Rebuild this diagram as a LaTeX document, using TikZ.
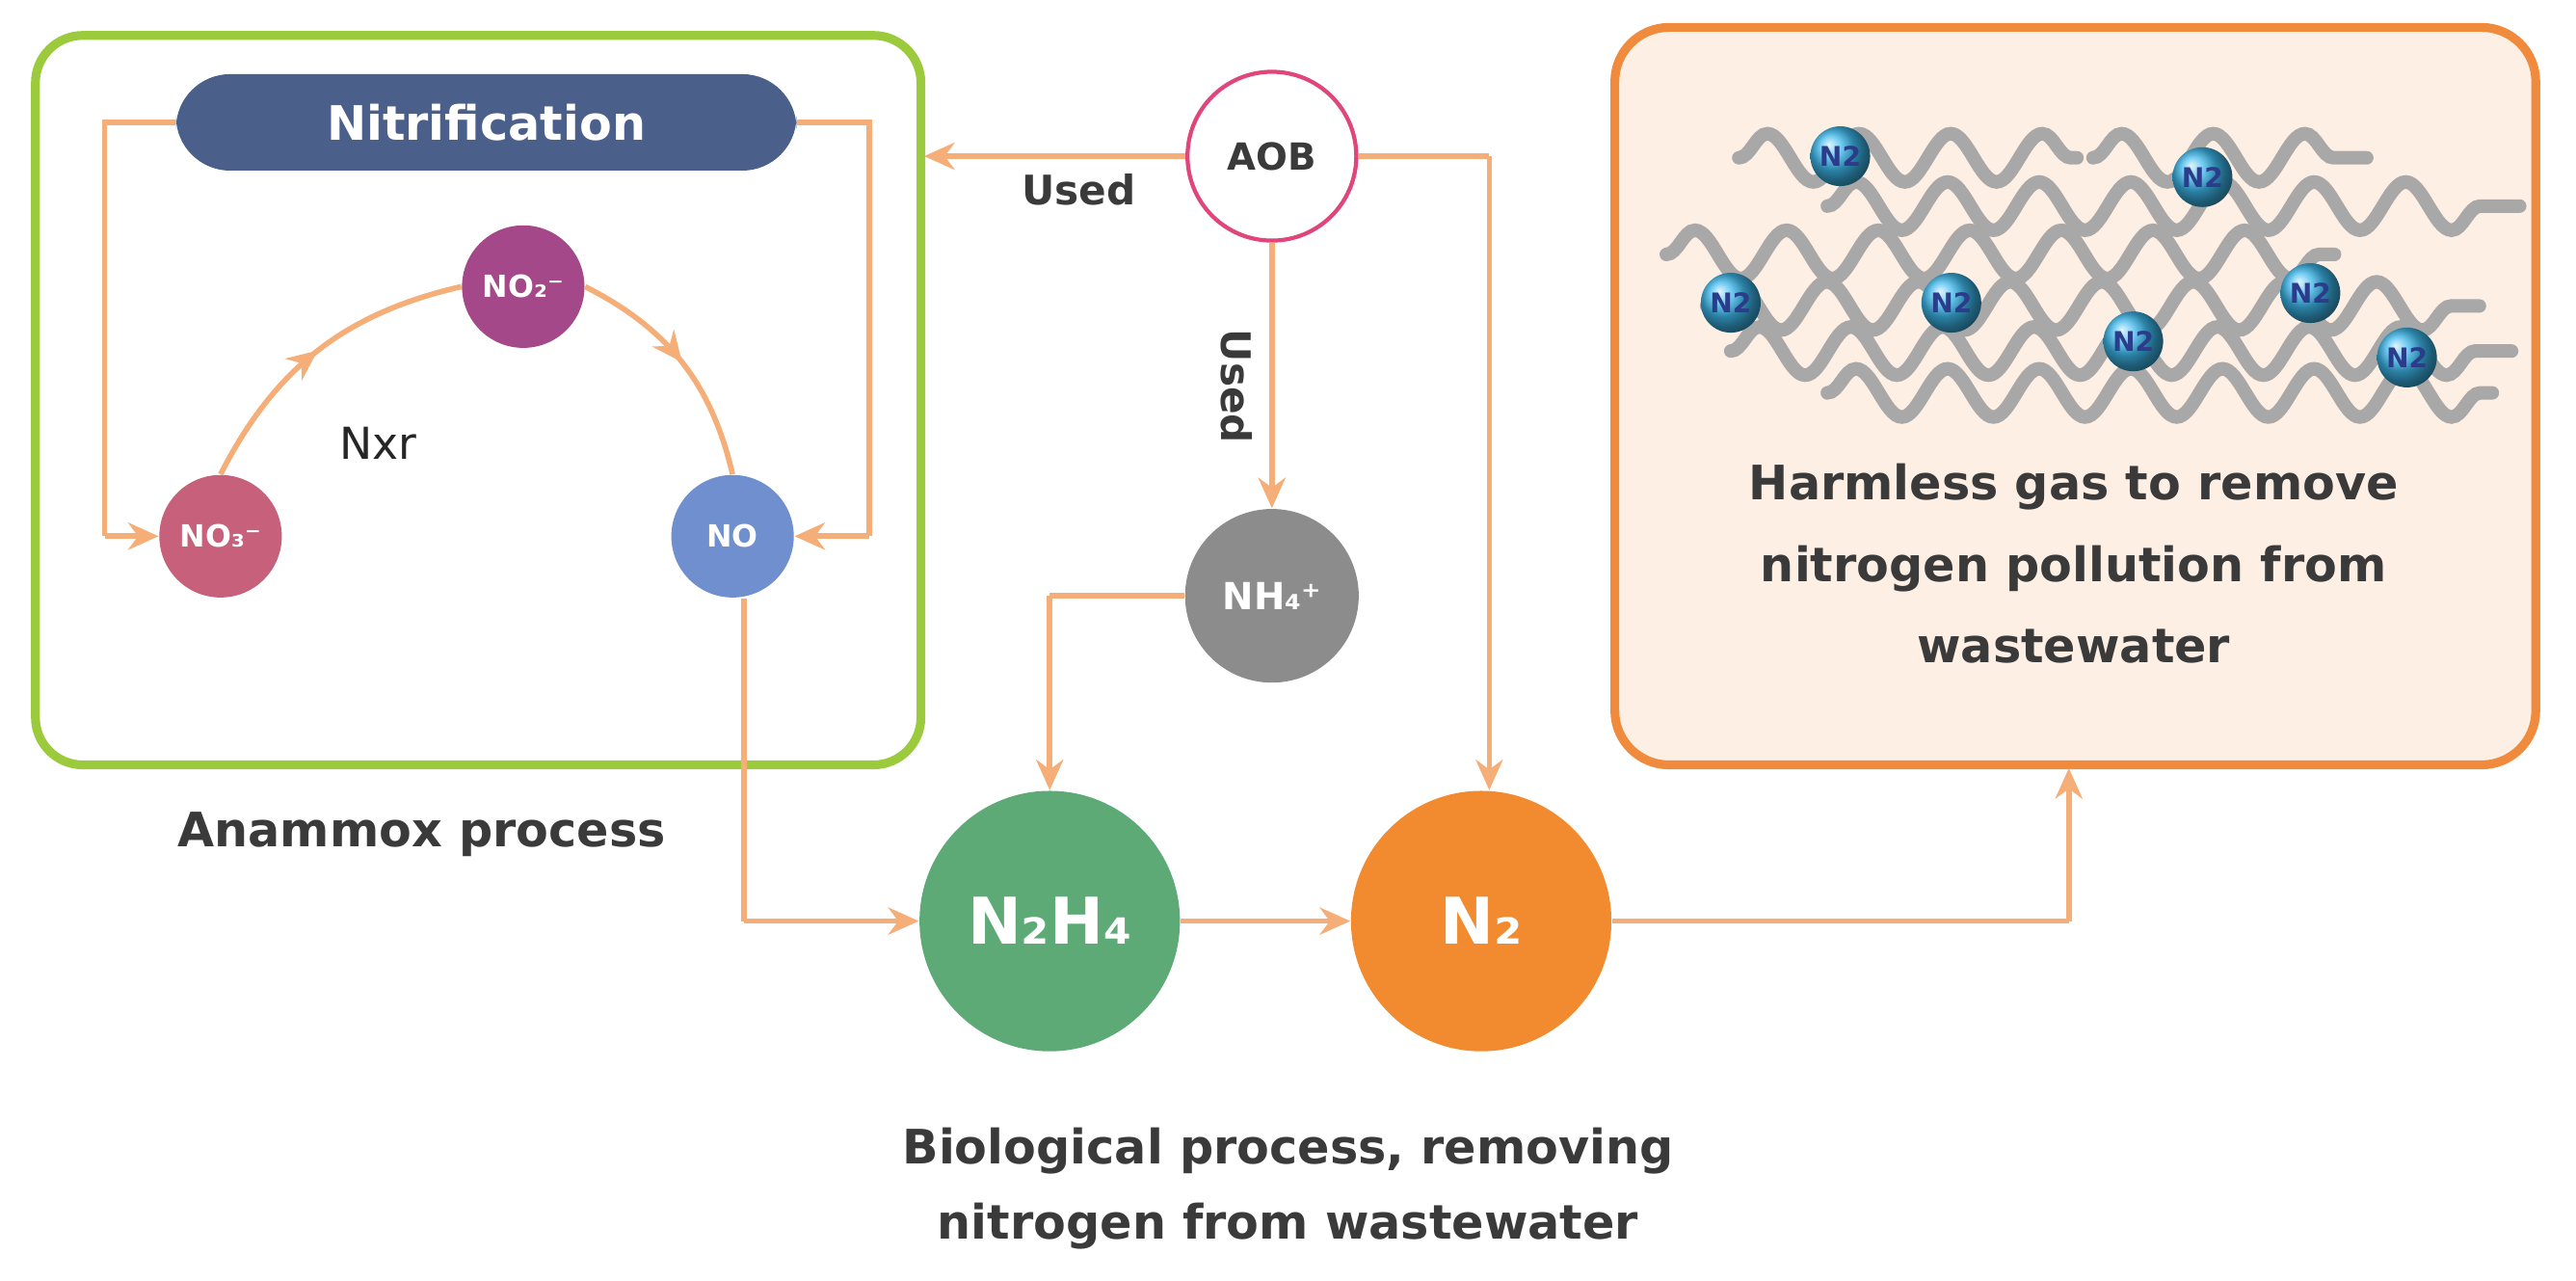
\documentclass[tikz,border=0pt]{standalone}
\usepackage{fontspec}
\setmainfont{DejaVu Sans}
\usetikzlibrary{arrows.meta,decorations.pathmorphing,decorations.markings}
\definecolor{grn}{HTML}{9BCB3C}
\definecolor{pill}{HTML}{4A5F8A}
\definecolor{ora}{HTML}{F5AE78}
\definecolor{oraD}{HTML}{F08A3C}
\definecolor{boxf}{HTML}{FDEFE3}
\definecolor{cNOt}{HTML}{C7607A}
\definecolor{cNOd}{HTML}{A4488A}
\definecolor{cNO}{HTML}{6F8FCF}
\definecolor{pink}{HTML}{E0457B}
\definecolor{gry}{HTML}{8C8C8C}
\definecolor{cNH}{HTML}{5DAA77}
\definecolor{cN2}{HTML}{F28A30}
\definecolor{txt}{HTML}{3A3A3A}
\definecolor{mol}{HTML}{3DB8EC}
\definecolor{molt}{HTML}{2B3C8A}
\definecolor{wave}{HTML}{A8A8A8}
\begin{document}
\begin{tikzpicture}[x=0.0167cm,y=-0.0167cm,
  conn/.style={draw=ora,line width=1.6pt,-{Stealth[length=9pt,width=8pt]}},
  ln/.style={draw=ora,line width=1.6pt},
  midarrow/.style={postaction={decorate},decoration={markings,mark=at position 0.5 with {\arrow[ora]{Stealth[length=9pt,width=8pt]}}}},
  ball/.style={circle,inner sep=0pt,text=white,font=\bfseries},
  lab/.style={font=\bfseries,text=txt,align=center},
  wv/.style={draw=wave,line width=4pt,line cap=round,decorate,decoration={snake,amplitude=2.5mm,segment length=9.5mm}},
  mo/.style={circle,inner sep=0pt,minimum size=0.62cm,ball color=mol,draw=none,text=molt,font=\bfseries\fontsize{8}{8}\selectfont}]
\useasboundingbox (0,0) rectangle (1600,795);
% green box
\draw[grn,line width=2.6pt,rounded corners=14pt] (22,22) rectangle (572,475);
\node[fill=pill,rounded corners=16pt,text width=6.2cm,minimum height=1.0cm,align=center,text=white,font=\bfseries\fontsize{14}{14}\selectfont] (nit) at (302,76) {Nitrification};
\node[ball,fill=cNOt,minimum size=1.27cm,font=\bfseries\fontsize{9}{9}\selectfont] (no3) at (137,333) {NO₃⁻};
\node[ball,fill=cNOd,minimum size=1.27cm,font=\bfseries\fontsize{9}{9}\selectfont] (no2) at (325,178) {NO₂⁻};
\node[ball,fill=cNO,minimum size=1.27cm,font=\bfseries\fontsize{9}{9}\selectfont] (no) at (455,333) {NO};
\node[font=\fontsize{13}{13}\selectfont,text=black!85] (nxr) at (235,275) {Nxr};
\coordinate (lt) at (65,76); \coordinate (lb) at (65,333);
\coordinate (rt) at (540,76); \coordinate (rb) at (540,333);
\draw[ln] (nit.west) -- (lt) -- (lb);
\draw[conn] (lb) -- (no3.west);
\draw[ln] (nit.east) -- (rt) -- (rb);
\draw[conn] (rb) -- (no.east);
\draw[ln,midarrow] (no3.north) to[bend left=25] (no2.west);
\draw[ln,midarrow] (no2.east) to[bend left=25] (no.north);
% AOB
\node[circle,draw=pink,line width=1.2pt,fill=white,minimum size=1.75cm,inner sep=0pt,font=\bfseries\fontsize{11}{11}\selectfont,text=txt] (aob) at (790,97) {AOB};
\coordinate (gbr) at (574,97);
\draw[conn] (aob.west) -- (gbr);
\node[lab,font=\bfseries\fontsize{12}{12}\selectfont] (u1) at (670,118) {Used};
\node[ball,fill=gry,minimum size=1.8cm,font=\bfseries\fontsize{11}{11}\selectfont] (nh4) at (790,370) {NH₄⁺};
\draw[conn] (aob.south) -- (nh4.north);
\node[lab,rotate=-90,font=\bfseries\fontsize{12}{12}\selectfont] (u2) at (768,240) {Used};
\node[ball,fill=cNH,minimum size=2.7cm,font=\bfseries\fontsize{19}{19}\selectfont] (n2h4) at (652,572) {N₂H₄};
\node[ball,fill=cN2,minimum size=2.7cm,font=\bfseries\fontsize{19}{19}\selectfont] (n2) at (920,572) {N₂};
\coordinate (ar) at (925,97);
\draw[ln] (aob.east) -- (ar);
\draw[conn] (ar) -- (n2.north-|ar);
\coordinate (nhl) at (652,370);
\draw[ln] (nh4.west) -- (nhl);
\draw[conn] (nhl) -- (n2h4.north);
\coordinate (nob) at (462,572);
\draw[ln] (no.south-|nob) -- (nob);
\draw[conn] (nob) -- (n2h4.west);
\draw[conn] (n2h4.east) -- (n2.west);
% orange box
\draw[oraD,fill=boxf,line width=2.6pt,rounded corners=16pt] (1003,17) rectangle (1575,475);
\coordinate (obb) at (1285,477);
\coordinate (nr) at (1285,572);
\draw[ln] (n2.east) -- (nr);
\draw[conn] (nr) -- (obb);
% waves
\draw[wv] (1080,98) -- (1290,98);
\draw[wv] (1300,98) -- (1470,98);
\draw[wv] (1135,128) -- (1565,128);
\draw[wv] (1035,158) -- (1450,158);
\draw[wv] (1060,190) -- (1540,190);
\draw[wv] (1075,218) -- (1560,218);
\draw[wv] (1135,244) -- (1548,244);
\node[mo] (m_1) at (1143,97) {N2};
\node[mo] (m_2) at (1368,110) {N2};
\node[mo] (m_3) at (1075,188) {N2};
\node[mo] (m_4) at (1212,188) {N2};
\node[mo] (m_5) at (1325,212) {N2};
\node[mo] (m_6) at (1435,182) {N2};
\node[mo] (m_7) at (1495,222) {N2};
% labels
\node[lab,font=\bfseries\fontsize{14}{24}\selectfont] (harm) at (1288,350) {Harmless gas to remove\\nitrogen pollution from\\wastewater};
\node[lab,font=\bfseries\fontsize{14}{14}\selectfont] (anam) at (262,518) {Anammox process};
\node[lab,font=\bfseries\fontsize{14}{22}\selectfont] (bio) at (800,738) {Biological process, removing\\nitrogen from wastewater};
\end{tikzpicture}
\end{document}
